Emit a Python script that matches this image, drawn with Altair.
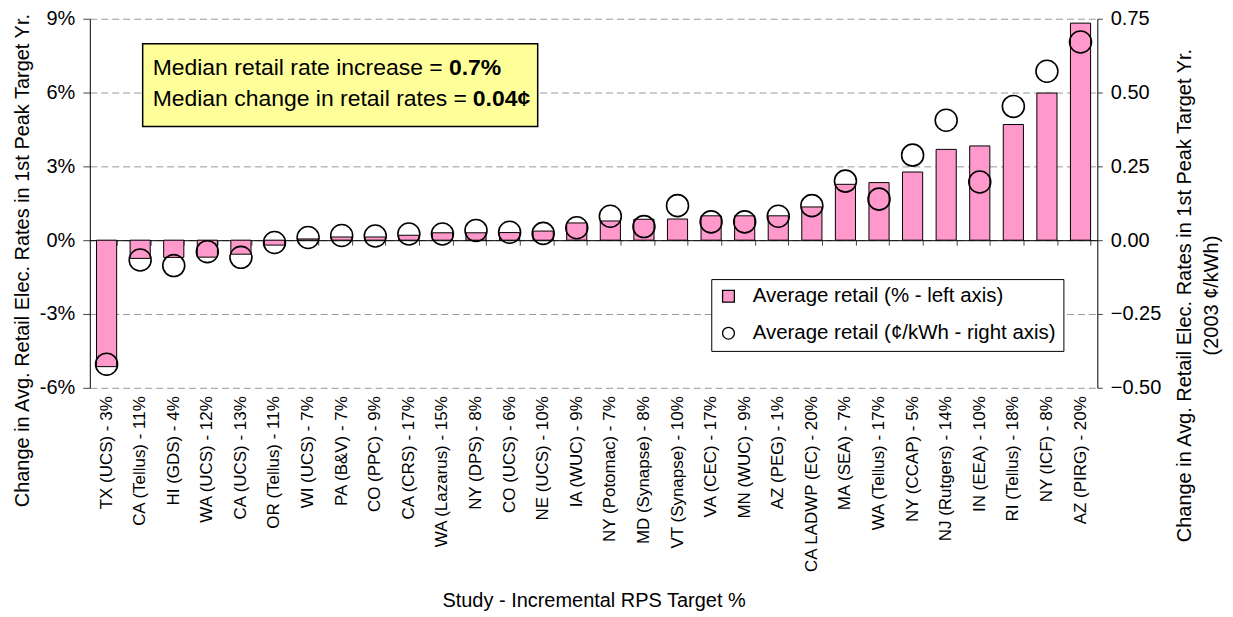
import altair as alt
import pandas as pd

studies = [
    "TX (UCS) - 3%", "CA (Tellus) - 11%", "HI (GDS) - 4%", "WA (UCS) - 12%",
    "CA (UCS) - 13%", "OR (Tellus) - 11%", "WI (UCS) - 7%", "PA (B&V) - 7%",
    "CO (PPC) - 9%", "CA (CRS) - 17%", "WA (Lazarus) - 15%", "NY (DPS) - 8%",
    "CO (UCS) - 6%", "NE (UCS) - 10%", "IA (WUC) - 9%", "NY (Potomac) - 7%",
    "MD (Synapse) - 8%", "VT (Synapse) - 10%", "VA (CEC) - 17%", "MN (WUC) - 9%",
    "AZ (PEG) - 1%", "CA LADWP (EC) - 20%", "MA (SEA) - 7%", "WA (Tellus) - 17%",
    "NY (CCAP) - 5%", "NJ (Rutgers) - 14%", "IN (EEA) - 10%", "RI (Tellus) - 18%",
    "NY (ICF) - 8%", "AZ (PIRG) - 20%",
]
pct_change = [
    -5.14, -0.74, -0.70, -0.69, -0.57, -0.20, 0.05, 0.13, 0.13, 0.20,
    0.30, 0.30, 0.31, 0.37, 0.70, 0.78, 0.85, 0.86, 0.99, 0.99,
    0.99, 1.35, 2.27, 2.34, 2.77, 3.69, 3.83, 4.70, 5.98, 8.82,
]
cent_change = [
    -0.420, -0.067, -0.086, -0.039, -0.058, -0.008, 0.009, 0.016, 0.014, 0.021,
    0.021, 0.033, 0.027, 0.023, 0.042, 0.081, 0.046, 0.117, 0.062, 0.062,
    0.081, 0.117, 0.200, 0.139, 0.288, 0.406, 0.197, 0.453, 0.572, 0.671,
]
series_names = ["Average retail (% -  left axis)", "Average retail (¢/kWh - right axis)"]
series_fill = ["#FF99CC", "transparent"]
series_shape = ["square", "circle"]
left_ticks = [-6, -3, 0, 3, 6, 9]
right_ticks = [-0.5, -0.25, 0, 0.25, 0.5, 0.75]
left_title = "Change in Avg. Retail Elec. Rates in 1st Peak Target Yr."
right_title = ["Change in Avg. Retail Elec. Rates in 1st Peak Target Yr.", "(2003 ¢/kWh)"]
x_title = "Study - Incremental RPS Target %"
note_regular = ["Median retail rate increase = ", "Median change in retail rates = "]
note_bold = ["0.7%", "0.04¢"]

FONT = "Liberation Sans"
W, H = 1010, 370
zero_offset = -H * 6 / 15  # put the category axis line at y = 0

df = pd.DataFrame({"study": studies, "pct": pct_change, "cents": cent_change})

x_scale = alt.Scale(domain=studies, paddingInner=0.4, paddingOuter=0.2)
fill_scale = alt.Scale(domain=series_names, range=series_fill)
shape_scale = alt.Scale(domain=series_names, range=series_shape)

legend = alt.Legend(
    orient="none", legendX=623, legendY=261, title=None, direction="vertical",
    labelFont=FONT, labelFontSize=20.5, labelColor="black", labelLimit=0,
    symbolSize=140, symbolStrokeColor="black", symbolStrokeWidth=1.3,
    labelOffset=14, rowPadding=16, padding=7,
    strokeColor="black", fillColor="white",
)

base = alt.Chart(df)

bars = base.transform_calculate(series="'" + series_names[0] + "'").mark_bar(
    stroke="black", strokeWidth=1
).encode(
    x=alt.X(
        "study:N", sort=studies, scale=x_scale,
        axis=alt.Axis(
            orient="bottom", offset=zero_offset, labels=False, ticks=True,
            tickBand="extent", tickSize=5, tickColor="#444", domain=True,
            domainColor="black", domainWidth=1, title=None, grid=False,
        ),
    ),
    y=alt.Y(
        "pct:Q", scale=alt.Scale(domain=[-6, 9], nice=False, zero=False),
        axis=alt.Axis(
            orient="left", values=left_ticks, labelExpr="datum.value + '%'",
            labelFontSize=20, labelPadding=8, tickSize=7, tickColor="#444",
            domainColor="black", grid=True, gridDash=[7, 4], gridColor="#999999",
            title=left_title, titleFontSize=20, titleX=-57, titleY=242,
            titleAngle=270, titleBaseline="bottom",
        ),
    ),
    fill=alt.Fill("series:N", scale=fill_scale, legend=legend),
)

circles = base.transform_calculate(series="'" + series_names[1] + "'").mark_point(
    filled=True, size=484, stroke="black", strokeWidth=1.6, opacity=1
).encode(
    x=alt.X(
        "study:N", sort=studies, scale=x_scale,
        axis=alt.Axis(
            orient="bottom", labelAngle=270, labelFontSize=17, labelPadding=8,
            labelLimit=400, labelOverlap=False, ticks=False, domain=False,
            grid=False, title=x_title, titleFontSize=20, titleY=203,
            titleBaseline="top",
        ),
    ),
    y=alt.Y(
        "cents:Q", scale=alt.Scale(domain=[-0.5, 0.75], nice=False, zero=False),
        axis=alt.Axis(
            orient="right", values=right_ticks, format=".2f", labelFontSize=20,
            labelPadding=8, tickSize=5, tickColor="#444", domainColor="black",
            grid=False, title=right_title, titleFontSize=20, titleAngle=270,
            titleBaseline="top", titleX=77, titleY=277, titleLineHeight=27,
        ),
    ),
    fill=alt.Fill("series:N", scale=fill_scale, legend=legend),
    shape=alt.Shape("series:N", scale=shape_scale, legend=legend),
)

note_df = pd.DataFrame({"regular": note_regular, "bold": note_bold, "line": [0, 1]})
note_box = alt.Chart(pd.DataFrame({"k": [0]})).mark_rect(
    fill="#FFFF99", stroke="black", strokeWidth=1.5
).encode(x=alt.value(53), x2=alt.value(449), y=alt.value(25), y2=alt.value(108))

note_line1 = alt.Chart(note_df.iloc[[0]]).mark_text(
    font=FONT, fontSize=23, align="left", baseline="alphabetic", color="black"
).encode(text="regular:N", x=alt.value(63), y=alt.value(56))
note_line1b = alt.Chart(note_df.iloc[[0]]).mark_text(
    font=FONT, fontSize=23, fontWeight="bold", align="left", baseline="alphabetic", color="black"
).encode(text="bold:N", x=alt.value(360), y=alt.value(56))
note_line2 = alt.Chart(note_df.iloc[[1]]).mark_text(
    font=FONT, fontSize=23, align="left", baseline="alphabetic", color="black"
).encode(text="regular:N", x=alt.value(63), y=alt.value(87))
note_line2b = alt.Chart(note_df.iloc[[1]]).mark_text(
    font=FONT, fontSize=23, fontWeight="bold", align="left", baseline="alphabetic", color="black"
).encode(text="bold:N", x=alt.value(384), y=alt.value(87))

chart = alt.layer(
    bars, circles, note_box, note_line1, note_line1b, note_line2, note_line2b
).resolve_scale(y="independent").resolve_axis(x="independent").properties(
    width=W, height=H,
    autosize=alt.AutoSizeParams(type="none"),
    padding={"left": 82, "top": 10, "right": 128, "bottom": 228},
).configure_view(stroke=None).configure_axis(
    labelFont=FONT, titleFont=FONT, labelColor="black", titleColor="black",
    titleFontWeight="normal",
)

chart.save("out.html", embed_options={"renderer": "svg", "actions": False})
